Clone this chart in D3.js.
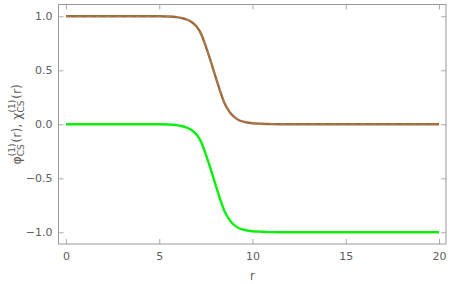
<!DOCTYPE html>
<html>
<head>
<meta charset="utf-8">
<script src="https://cdn.jsdelivr.net/npm/d3@7"></script>
<style>
  body { margin: 0; background: #fff; }
  text { font-family: "DejaVu Sans", sans-serif; fill: #5e5e5e; }
</style>
</head>
<body>
<div id="chart"></div>
<script>
// sample points along r
const rVals = [0, 1, 2, 3, 4, 5, 5.5, 6, 6.25, 6.5, 6.75, 7, 7.25, 7.5, 7.75, 8, 8.25, 8.5, 8.75, 9, 9.25, 9.5, 10, 10.5, 11, 12, 14, 16, 18, 20];
const phiVals = [1, 1, 1, 1, 1, 1, 0.998, 0.99, 0.982, 0.968, 0.945, 0.905, 0.835, 0.72, 0.59, 0.45, 0.315, 0.195, 0.12, 0.07, 0.04, 0.025, 0.01, 0.005, 0.002, 0, 0, 0, 0, 0];
const chiVals = [0, 0, 0, 0, 0, 0, -0.002, -0.01, -0.018, -0.032, -0.055, -0.095, -0.165, -0.28, -0.41, -0.55, -0.685, -0.805, -0.88, -0.93, -0.96, -0.975, -0.99, -0.995, -0.998, -1, -1, -1, -1, -1];
const xTicks = [0, 5, 10, 15, 20];
const yTicks = [-1, -0.5, 0, 0.5, 1];

const W = 452, H = 284;
const frame = { left: 58.5, right: 446, top: 4.5, bottom: 244 };

const svg = d3.select("#chart").append("svg")
    .attr("width", W)
    .attr("height", H);

const x = d3.scaleLinear().domain([0, 20]).range([66, 439]);
const y = d3.scaleLinear().domain([-1, 1]).range([232.3, 16.3]);

const fmtY = d => d3.format(".1f")(d).replace("-", "\u2212");

// frame axes: major + minor ticks pointing inward
function drawAxis(axisFn, pos, scale, major, minor, size, labels, fmt) {
    let g = svg.append("g").attr("transform", pos);
    g.call(axisFn(scale).tickValues(minor).tickSize(-2.5).tickFormat(""));
    g.call(axisFn(scale).tickValues(major).tickSize(-5).tickPadding(size).tickFormat(labels ? fmt : ""));
    g.selectAll(".domain").remove();
    g.selectAll("line").attr("stroke", "#aaa");
    g.selectAll("text").style("font-size", "11px").attr("fill", "#5e5e5e");
    return g;
}

const xMinor = d3.range(0, 21, 1);
const yMinor = d3.range(-10, 11, 1).map(v => v / 10);

drawAxis(d3.axisBottom, `translate(0,${frame.bottom})`, x, xTicks, xMinor, 8, true, d3.format("d"));
drawAxis(d3.axisTop, `translate(0,${frame.top})`, x, xTicks, xMinor, 0, false);
drawAxis(d3.axisLeft, `translate(${frame.left},0)`, y, yTicks, yMinor, 6, true, fmtY);
drawAxis(d3.axisRight, `translate(${frame.right},0)`, y, yTicks, yMinor, 0, false);

svg.append("rect")
    .attr("x", frame.left)
    .attr("y", frame.top)
    .attr("width", frame.right - frame.left)
    .attr("height", frame.bottom - frame.top)
    .attr("fill", "none")
    .attr("stroke", "#999")
    .attr("stroke-width", 1);

// curves
const line = vals => d3.line()
    .x((d, i) => x(rVals[i]))
    .y(d => y(d))
    .curve(d3.curveMonotoneX)(vals);

svg.append("path")
    .attr("d", line(chiVals))
    .attr("fill", "none")
    .attr("stroke", "#0af00a")
    .attr("stroke-width", 2.4);

svg.append("path")
    .attr("d", line(phiVals))
    .attr("fill", "none")
    .attr("stroke", "#9e6c3c")
    .attr("stroke-width", 2.4);

svg.append("path")
    .attr("d", line(phiVals))
    .attr("fill", "none")
    .attr("stroke", "#c49a78")
    .attr("stroke-width", 0.8)
    .attr("stroke-dasharray", "5,5")
    .attr("opacity", 0.5);

// x label
svg.append("text")
    .attr("x", (frame.left + frame.right) / 2 + 0)
    .attr("y", 280)
    .attr("text-anchor", "middle")
    .style("font-size", "11.5px")
    .text("r");

// y label: φ_CS^(1)(r), χ_CS^(1)(r) built from pieces
const lab = svg.append("g");
const inner = lab.append("g");
let cx = 0;
const big = 12.5, small = 9;
function piece(txt, size, dy) {
    let t = inner.append("text").attr("x", cx).attr("y", dy).style("font-size", size + "px").text(txt);
    return t.node().getComputedTextLength();
}
function stacked(sub, sup) {
    let w1 = piece(sub, small, 2.5);
    let w2 = piece(sup, small, -6.5);
    cx += Math.max(w1, w2) + 0.8;
}
cx += piece("\u03c6", big, 0);
stacked("CS", "(1)");
cx += piece("(r),", big, 0) + 4;
cx += piece("\u03c7", big, 0);
stacked("CS", "(1)");
cx += piece("(r)", big, 0);
inner.attr("transform", `translate(${-cx / 2},0)`);
lab.attr("transform", `translate(21,${(frame.top + frame.bottom) / 2}) rotate(-90)`);
</script>
</body>
</html>
